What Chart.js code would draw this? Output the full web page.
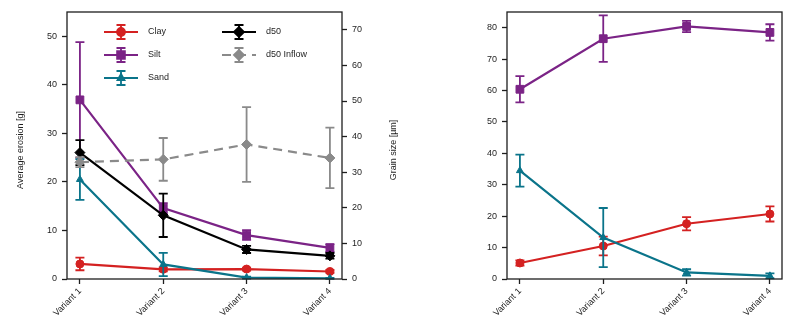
<!DOCTYPE html>
<html>
<head>
<meta charset="utf-8">
<script src="https://cdn.jsdelivr.net/npm/chart.js@4.4.1/dist/chart.umd.min.js"></script>
<style>
  body { margin: 0; background: #fff; }
  #wrap { position: relative; width: 800px; height: 326px; }
  canvas { position: absolute; top: 0; }
</style>
</head>
<body>
<div id="wrap">
  <canvas id="erosionChart" width="400" height="326" style="left:0"></canvas>
  <canvas id="fractionChart" width="400" height="326" style="left:400px"></canvas>
</div>
<script>
// Categories and tick labels
const variants = ['Variant 1', 'Variant 2', 'Variant 3', 'Variant 4'];
const erosionTicks = [0, 10, 20, 30, 40, 50];
const grainTicks = [0, 10, 20, 30, 40, 50, 60, 70];
const fractionTicks = [0, 10, 20, 30, 40, 50, 60, 70, 80];

// Average erosion [g] per fraction, with standard deviation
const clayMass = [3.1, 2.0, 2.05, 1.55];
const clayMassErr = [1.3, 0.4, 0.3, 0.3];
const siltMass = [36.9, 14.6, 9.05, 6.4];
const siltMassErr = [11.9, 1.0, 1.0, 0.8];
const sandMass = [20.5, 3.0, 0.3, 0.15];
const sandMassErr = [4.2, 2.4, 0.2, 0.1];

// Grain size d50 [µm]
const d50 = [35.5, 17.9, 8.3, 6.5];
const d50Err = [3.5, 6.1, 1.0, 0.8];
const d50Inflow = [32.8, 33.6, 37.8, 34.0];
const d50InflowErr = [1.4, 6.0, 10.5, 8.5];

// Fraction representation in erosion [%]
const clayPct = [5.1, 10.5, 17.6, 20.7];
const clayPctErr = [0.8, 3.0, 2.1, 2.4];
const siltPct = [60.4, 76.5, 80.4, 78.5];
const siltPctErr = [4.2, 7.4, 1.8, 2.6];
const sandPct = [34.5, 13.2, 2.1, 1.0];
const sandPctErr = [5.1, 9.4, 1.0, 0.8];

const RED = '#d42121';
const PURPLE = '#7b2386';
const TEAL = '#0a748a';
const GREY = '#8a8a8a';
const INK = '#1e1e1e';
const FONT = { family: '"Liberation Sans", Arial, sans-serif', size: 9 };

Chart.defaults.font.family = FONT.family;
Chart.defaults.font.size = 9;
Chart.defaults.color = INK;

const points = arr => arr.map((v, i) => ({ x: i + 1, y: v }));

function series(label, values, errors, color, style, extra) {
  return Object.assign({
    label: label,
    data: points(values),
    errors: errors,
    borderColor: color,
    backgroundColor: color,
    borderWidth: 2.2,
    pointStyle: style,
    pointRadius: style === 'rect' ? 5.5 : style === 'rectRot' ? 5 : 4,
    pointBorderWidth: 1,
    tension: 0
  }, extra || {});
}

// vertical error bars with caps, drawn just under each dataset
const errorBars = {
  id: 'errorBars',
  beforeDatasetDraw(chart, args) {
    const ds = chart.data.datasets[args.index];
    if (!ds.errors) return;
    const xs = chart.scales.x;
    const ys = chart.scales[ds.yAxisID || 'y'];
    const ctx = chart.ctx;
    ctx.save();
    ctx.strokeStyle = ds.borderColor;
    ctx.lineWidth = 1.8;
    ctx.setLineDash([]);
    ds.data.forEach((p, i) => {
      const x = xs.getPixelForValue(p.x);
      const top = ys.getPixelForValue(p.y + ds.errors[i]);
      const bot = ys.getPixelForValue(Math.max(p.y - ds.errors[i], ys.min));
      ctx.beginPath();
      ctx.moveTo(x, bot); ctx.lineTo(x, top);
      ctx.moveTo(x - 4.5, top); ctx.lineTo(x + 4.5, top);
      ctx.moveTo(x - 4.5, bot); ctx.lineTo(x + 4.5, bot);
      ctx.stroke();
    });
    ctx.restore();
  }
};

// box around the plot area plus rotated axis titles
const frame = {
  id: 'frame',
  afterDraw(chart, args, opts) {
    const ctx = chart.ctx;
    const a = chart.chartArea;
    ctx.save();
    ctx.strokeStyle = INK;
    ctx.lineWidth = 1.3;
    ctx.strokeRect(a.left, a.top, a.right - a.left, a.bottom - a.top);
    ctx.fillStyle = INK;
    ctx.font = '9px ' + FONT.family;
    ctx.textAlign = 'center';
    ctx.textBaseline = 'middle';
    (opts.titles || []).forEach(t => {
      ctx.save();
      ctx.translate(t.x, t.y);
      ctx.rotate(-Math.PI / 2);
      ctx.fillText(t.text, 0, 0);
      ctx.restore();
    });
    ctx.restore();
  }
};

// two-column legend inside the plot, each entry with line, marker and error bar
const legendBox = {
  id: 'legendBox',
  afterDraw(chart, args, opts) {
    if (!opts.slots) return;
    const ctx = chart.ctx;
    ctx.save();
    opts.slots.forEach((s, i) => {
      const ds = chart.data.datasets[i];
      const cx = s.x + 17;
      ctx.strokeStyle = ds.borderColor;
      ctx.lineWidth = ds.borderWidth;
      ctx.setLineDash(ds.borderDash || []);
      ctx.beginPath();
      ctx.moveTo(s.x, s.y); ctx.lineTo(s.x + 34, s.y);
      ctx.stroke();
      ctx.setLineDash([]);
      ctx.lineWidth = 1.8;
      ctx.beginPath();
      ctx.moveTo(cx, s.y - 7); ctx.lineTo(cx, s.y + 7);
      ctx.moveTo(cx - 4.5, s.y - 7); ctx.lineTo(cx + 4.5, s.y - 7);
      ctx.moveTo(cx - 4.5, s.y + 7); ctx.lineTo(cx + 4.5, s.y + 7);
      ctx.stroke();
      ctx.fillStyle = ds.backgroundColor;
      Chart.helpers.drawPoint(ctx, {
        pointStyle: ds.pointStyle, radius: ds.pointRadius, rotation: 0, borderWidth: 1
      }, cx, s.y);
      ctx.fillStyle = INK;
      ctx.font = '9px ' + FONT.family;
      ctx.textAlign = 'left';
      ctx.textBaseline = 'middle';
      ctx.fillText(ds.label, s.x + 44, s.y);
    });
    ctx.restore();
  }
};

function xAxis() {
  return {
    type: 'linear',
    min: 0.845,
    max: 4.145,
    afterBuildTicks: s => { s.ticks = variants.map((v, i) => ({ value: i + 1 })); },
    afterFit: s => { s.height = 47; },
    ticks: { callback: v => variants[v - 1], minRotation: 45, maxRotation: 45, autoSkip: false, padding: 2, color: INK, font: FONT },
    grid: { display: true, drawOnChartArea: false, drawTicks: true, tickLength: 5, tickWidth: 1.3, color: INK },
    border: { display: false }
  };
}

function yAxis(position, max, ticks, width) {
  return {
    type: 'linear',
    position: position,
    min: 0,
    max: max,
    afterBuildTicks: s => { s.ticks = ticks.map(v => ({ value: v })); },
    afterFit: s => { s.width = width; },
    ticks: { padding: 5, color: INK, font: FONT },
    grid: { display: true, drawOnChartArea: false, drawTicks: true, tickLength: 5, tickWidth: 1.3, color: INK },
    border: { display: false }
  };
}

const baseOptions = {
  responsive: false,
  animation: false,
  layout: { padding: { top: 12, left: 0, right: 0, bottom: 0 } },
  plugins: { legend: { display: false }, tooltip: { enabled: false } }
};

new Chart(document.getElementById('erosionChart').getContext('2d'), {
  type: 'line',
  data: {
    datasets: [
      series('Clay', clayMass, clayMassErr, RED, 'circle', { yAxisID: 'y', order: 5 }),
      series('Silt', siltMass, siltMassErr, PURPLE, 'rect', { yAxisID: 'y', order: 4 }),
      series('Sand', sandMass, sandMassErr, TEAL, 'triangle', { yAxisID: 'y', order: 3 }),
      series('d50', d50, d50Err, '#000000', 'rectRot', { yAxisID: 'y2', order: 2 }),
      series('d50 Inflow', d50Inflow, d50InflowErr, GREY, 'rectRot', { yAxisID: 'y2', order: 1, borderDash: [9, 6] })
    ]
  },
  options: Object.assign({}, baseOptions, {
    scales: {
      x: xAxis(),
      y: yAxis('left', 55, erosionTicks, 67),
      y2: yAxis('right', 75, grainTicks, 58)
    },
    plugins: Object.assign({}, baseOptions.plugins, {
      frame: { titles: [
        { text: 'Average erosion [g]', x: 21, y: 150 },
        { text: 'Grain size [µm]', x: 394, y: 150 }
      ] },
      legendBox: { slots: [
        { x: 104, y: 32 }, { x: 104, y: 55 }, { x: 104, y: 78 },
        { x: 222, y: 32 }, { x: 222, y: 55 }
      ] }
    })
  }),
  plugins: [errorBars, frame, legendBox]
});

new Chart(document.getElementById('fractionChart').getContext('2d'), {
  type: 'line',
  data: {
    datasets: [
      series('Clay', clayPct, clayPctErr, RED, 'circle', { order: 3 }),
      series('Silt', siltPct, siltPctErr, PURPLE, 'rect', { order: 2 }),
      series('Sand', sandPct, sandPctErr, TEAL, 'triangle', { order: 1 })
    ]
  },
  options: Object.assign({}, baseOptions, {
    layout: { padding: { top: 12, left: 0, right: 18, bottom: 0 } },
    scales: {
      x: xAxis(),
      y: yAxis('left', 85, fractionTicks, 107)
    },
    plugins: Object.assign({}, baseOptions.plugins, {
      frame: { titles: [
        { text: 'Fraction representation in erosion [%]', x: 462, y: 145 }
      ] }
    })
  }),
  plugins: [errorBars, frame]
});
</script>
</body>
</html>
